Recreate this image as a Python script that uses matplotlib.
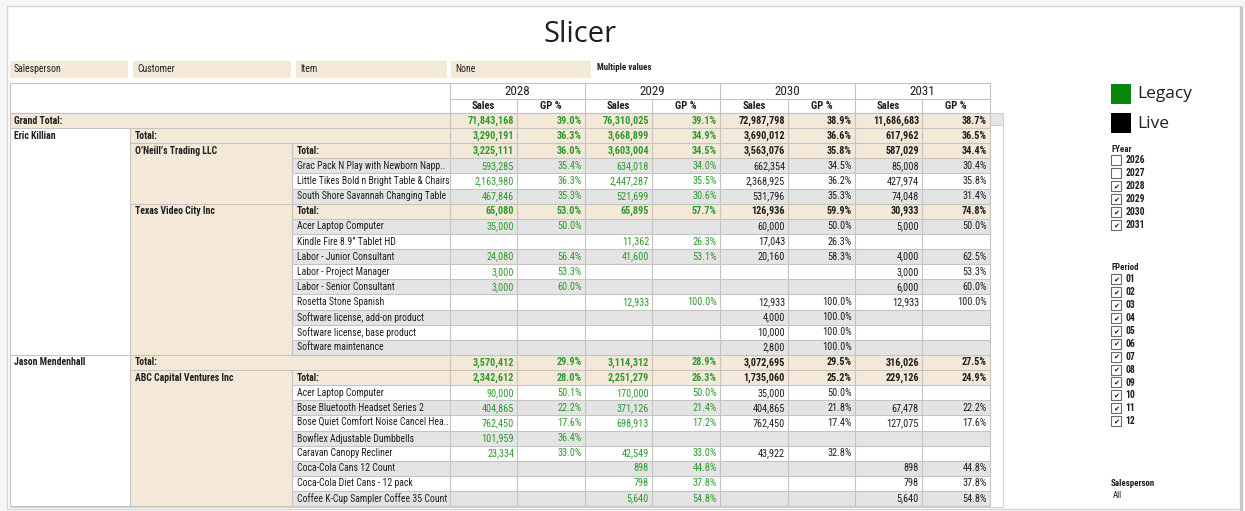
import matplotlib
matplotlib.use('Agg')
import matplotlib.pyplot as plt
from matplotlib.patches import Rectangle
from matplotlib import font_manager as fm

# ---------------- data ----------------
title = 'Slicer'
filter_fields = ['Salesperson', 'Customer', 'Item', 'None']
filter_note = 'Multiple values'
years = ['2028', '2029', '2030', '2031']
year_status = ['Legacy', 'Legacy', 'Live', 'Live']
measures = ['Sales', 'GP %']
legend_labels = ['Legacy', 'Live']

salespersons = ['Eric Killian', 'Jason Mendenhall']
customers = ['O’Neill’s Trading LLC', 'Texas Video City Inc', 'ABC Capital Ventures Inc']
customer_salesperson = [0, 0, 1]
oneill_items = ['Grac Pack N Play with Newborn Napp..',
                'Little Tikes Bold n Bright Table & Chairs',
                'South Shore Savannah Changing Table']
texas_items = ['Acer Laptop Computer', 'Kindle Fire 8.9” Tablet HD',
               'Labor - Junior Consultant', 'Labor - Project Manager',
               'Labor - Senior Consultant', 'Rosetta Stone Spanish',
               'Software license, add-on product', 'Software license, base product',
               'Software maintenance']
abc_items = ['Acer Laptop Computer', 'Bose Bluetooth Headset Series 2',
             'Bose Quiet Comfort Noise Cancel Hea..', 'Bowflex Adjustable Dumbbells',
             'Caravan Canopy Recliner', 'Coca-Cola Cans 12 Count',
             'Coca-Cola Diet Cans - 12 pack', 'Coffee K-Cup Sampler Coffee 35 Count']

# row order: Grand, EK total, O'Neill total, 3 items, Texas total, 9 items,
#            JM total, ABC total, 8 items
sales_2028 = [71843168, 3290191, 3225111, 593285, 2163980, 467846, 65080, 35000, None,
              24080, 3000, 3000, None, None, None, None, 3570412, 2342612, 90000, 404865,
              762450, 101959, 23334, None, None, None]
gp_2028 = [39.0, 36.3, 36.0, 35.4, 36.3, 35.3, 53.0, 50.0, None, 56.4, 53.3, 60.0, None,
           None, None, None, 29.9, 28.0, 50.1, 22.2, 17.6, 36.4, 33.0, None, None, None]
sales_2029 = [76310025, 3668899, 3603004, 634018, 2447287, 521699, 65895, None, 11362,
              41600, None, None, 12933, None, None, None, 3114312, 2251279, 170000, 371126,
              698913, None, 42549, 898, 798, 5640]
gp_2029 = [39.1, 34.9, 34.5, 34.0, 35.5, 30.6, 57.7, None, 26.3, 53.1, None, None, 100.0,
           None, None, None, 28.9, 26.3, 50.0, 21.4, 17.2, None, 33.0, 44.8, 37.8, 54.8]
sales_2030 = [72987798, 3690012, 3563076, 662354, 2368925, 531796, 126936, 60000, 17043,
              20160, None, None, 12933, 4000, 10000, 2800, 3072695, 1735060, 35000, 404865,
              762450, None, 43922, None, None, None]
gp_2030 = [38.9, 36.6, 35.8, 34.5, 36.2, 35.3, 59.9, 50.0, 26.3, 58.3, None, None, 100.0,
           100.0, 100.0, 100.0, 29.5, 25.2, 50.0, 21.8, 17.4, None, 32.8, None, None, None]
sales_2031 = [11686683, 617962, 587029, 85008, 427974, 74048, 30933, 5000, None, 4000,
              3000, 6000, 12933, None, None, None, 316026, 229126, None, 67478, 127075,
              None, None, 898, 798, 5640]
gp_2031 = [38.7, 36.5, 34.4, 30.4, 35.8, 31.4, 74.8, 50.0, None, 62.5, 53.3, 60.0, 100.0,
           None, None, None, 27.5, 24.9, None, 22.2, 17.6, None, None, 44.8, 37.8, 54.8]

fyear_options = ['2026', '2027', '2028', '2029', '2030', '2031']
fyear_checked = [False, False, True, True, True, True]
fperiod_options = ['01', '02', '03', '04', '05', '06', '07', '08', '09', '10', '11', '12']
fperiod_checked = [True] * 12
salesperson_filter = 'All'

# ---------------- styling / layout ----------------
BEIGE = '#F4E9D8'
BAND = '#E4E4E4'
GREEN = '#2F9A2F'
LEG_GREEN = '#0A870A'
LINE = '#C4C4C4'
TXT = '#1E1E1E'

avail = {f.name for f in fm.fontManager.ttflist}
def pick(*names):
    for n in names:
        if n in avail:
            return n
    return 'DejaVu Sans'

TF = pick('Liberation Sans Narrow', 'Roboto Condensed', 'Lato', 'Liberation Sans')
base = {'Liberation Sans Narrow': 7.0, 'Roboto Condensed': 6.8, 'Lato': 6.6,
        'Liberation Sans': 6.0}.get(TF, 6.0)
FS = base * 1.03          # row labels
NS = base * 1.09          # numbers
HF = pick('Open Sans', 'Lato', 'DejaVu Sans')

W, H = 1245, 511
fig = plt.figure(figsize=(W / 100, H / 100), dpi=100)
fig.patch.set_facecolor('#F6F6F6')
ax = fig.add_axes([0, 0, 1, 1])
ax.set_xlim(0, W)
ax.set_ylim(H, 0)
ax.axis('off')

def rect(x0, y0, x1, y1, fc, ec='none', lw=0, z=1):
    ax.add_patch(Rectangle((x0, y0), x1 - x0, y1 - y0, facecolor=fc, edgecolor=ec,
                           linewidth=lw, zorder=z))

def hline(y, x0, x1, c=LINE, lw=0.8, z=3):
    ax.plot([x0, x1], [y, y], color=c, lw=lw, zorder=z, solid_capstyle='butt')

def vline(x, y0, y1, c=LINE, lw=0.8, z=3):
    ax.plot([x, x], [y0, y1], color=c, lw=lw, zorder=z, solid_capstyle='butt')

def txt(x, y, s, size=FS, ha='left', weight='normal', color=TXT, family=None, z=5):
    ax.text(x, y, s, fontsize=size, ha=ha, va='center', weight=weight, color=color,
            family=family or TF, zorder=z)

# frame
rect(7, 6, 1240, 509, 'white', ec='#D6D6D6', lw=1.0, z=0)
rect(1240, 6, 1243, 511, '#C8C8C8', z=0)

# title
txt(580, 35, title, size=21, ha='center', family=HF)

# filter boxes
box_x = [(10, 128), (133, 291), (296, 447), (451, 591)]
for (x0, x1), lab in zip(box_x, filter_fields):
    rect(x0, 61, x1, 78, BEIGE)
    txt(x0 + 4, 69.5, lab, size=FS)
txt(597, 68, filter_note, size=FS - 0.6, weight='bold')

# ---------------- table ----------------
XL, XC, XI, XV, XR = 10, 130, 292, 450, 990
edges = [450, 517, 585, 652, 720, 788, 855, 922, 990]
YH0, YH1, YH2 = 83, 99, 113
RH = 15.12

items_by_customer = [oneill_items, texas_items, abc_items]
rows = [('grand', 'Grand Total:', None, None)]
for si, sp in enumerate(salespersons):
    rows.append(('sp', 'Total:', si, None))
    for ci, cu in enumerate(customers):
        if customer_salesperson[ci] != si:
            continue
        rows.append(('cust', 'Total:', si, ci))
        for it in items_by_customer[ci]:
            rows.append(('item', it, si, ci))

sales = [sales_2028, sales_2029, sales_2030, sales_2031]
gps = [gp_2028, gp_2029, gp_2030, gp_2031]
ybot = YH2 + len(rows) * RH

# header
rect(XL, YH0, XR, YH2, 'white', z=1)
for j, yr in enumerate(years):
    xa, xb = edges[2 * j], edges[2 * j + 2]
    txt((xa + xb) / 2, (YH0 + YH1) / 2 + 0.5, yr, size=9.4, ha='center')
    for k, m in enumerate(measures):
        x0 = edges[2 * j + k]; x1 = edges[2 * j + k + 1]
        txt((x0 + x1) / 2, (YH1 + YH2) / 2, m, size=NS + 0.2, ha='center', weight='bold')

# body backgrounds and texts
sp_first = {}
cust_first = {}
for r, (kind, label, si, ci) in enumerate(rows):
    y0 = YH2 + r * RH
    yc = y0 + RH / 2
    if kind == 'grand':
        rect(XL, y0, XR, y0 + RH, BEIGE)
        txt(XL + 4, yc, label, weight='bold')
    elif kind == 'sp':
        sp_first[si] = r
        rect(XC, y0, XR, y0 + RH, BEIGE)
        txt(XC + 5, yc, label, weight='bold')
    elif kind == 'cust':
        cust_first[ci] = r
        rect(XI, y0, XR, y0 + RH, BEIGE)
        txt(XI + 5, yc, label, weight='bold')
    else:
        rect(XI, y0, XR, y0 + RH, BAND if r % 2 == 1 else 'white')
        txt(XI + 5, yc, label)
    bold = 'bold' if kind != 'item' else 'normal'
    for j in range(len(years)):
        col = GREEN if year_status[j] == 'Legacy' else TXT
        s = sales[j][r]
        g = gps[j][r]
        if s is not None:
            txt(edges[2 * j + 1] - 3, yc, f'{s:,.0f}', size=NS, ha='right', weight=bold, color=col)
        if g is not None:
            txt(edges[2 * j + 2] - 3, yc, f'{g:.1f}%', size=NS, ha='right', weight=bold, color=col)

# salesperson / customer spanning cells
for si, sp in enumerate(salespersons):
    r0 = sp_first[si]
    rect(XL, YH2 + r0 * RH, XC, ybot, 'white', z=0.9)
    txt(XL + 4, YH2 + r0 * RH + RH / 2, sp, weight='bold')
for ci, cu in enumerate(customers):
    r0 = cust_first[ci]
    r1 = r0 + 1 + len(items_by_customer[ci])
    rect(XC, YH2 + r0 * RH, XI, YH2 + r1 * RH, BEIGE)
    txt(XC + 5, YH2 + r0 * RH + RH / 2, cu, weight='bold')

# grid lines
hline(YH0, XL, XR)
hline(YH1, XV, XR)
hline(YH2, XL, XR)
for x in edges[::2]:
    vline(x, YH0, ybot)
for x in edges[1::2]:
    vline(x, YH1, ybot)
vline(XL, YH0, ybot)
vline(XC, YH2 + RH, ybot)
for r, (kind, label, si, ci) in enumerate(rows):
    y0 = YH2 + r * RH
    start = {'grand': XL, 'sp': XL, 'cust': XC, 'item': XI}[kind]
    hline(y0, start, XR)
    if kind in ('cust', 'item'):
        vline(XI, y0, y0 + RH)
hline(ybot, XL, XR)

# scrollbar
rect(990, YH2, 1003, YH2 + 12, '#E6E6E6', ec='#C8C8C8', lw=0.6)
vline(1003, YH2, 507, c='#D2D2D2')
hline(507, XL, 1003, c='#D2D2D2')

# ---------------- legend & filters ----------------
leg_colors = [LEG_GREEN, 'black']
for i, (lab, c) in enumerate(zip(legend_labels, leg_colors)):
    y = 84 + i * 29.5
    rect(1111, y, 1131, y + 20, c)
    txt(1137, y + 10, lab, size=12.5, family=HF)

def checklist(first_y, step, opts, checked):
    for i, (o, ck) in enumerate(zip(opts, checked)):
        yc = first_y + i * step
        rect(1111, yc - 5, 1121, yc + 5, 'white', ec='#6A6A6A', lw=0.8, z=4)
        if ck:
            txt(1116, yc + 0.3, '✔', size=5.2, ha='center', family='DejaVu Sans', color='#111111')
        txt(1125.5, yc, o, size=FS - 0.1, weight='bold')

txt(1111, 149, 'FYear', size=FS - 0.6, weight='bold')
checklist(160.3, 13.0, fyear_options, fyear_checked)
txt(1111, 267, 'FPeriod', size=FS - 0.6, weight='bold')
checklist(279.3, 12.9, fperiod_options, fperiod_checked)
txt(1111, 484, 'Salesperson', size=FS - 0.6, weight='bold')
txt(1113, 496, salesperson_filter, size=FS - 0.6)

fig.savefig('out.png', dpi=100, facecolor=fig.get_facecolor())
